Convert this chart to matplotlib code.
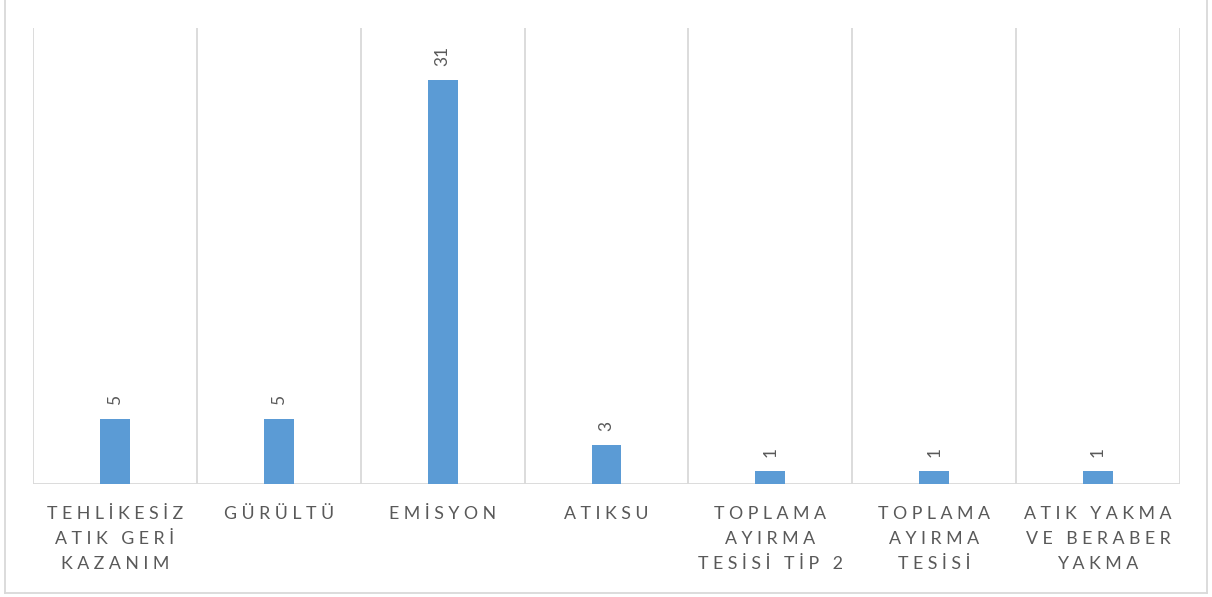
import matplotlib
matplotlib.use("Agg")
import matplotlib.pyplot as plt
from matplotlib.lines import Line2D

BAR = "#5B9BD5"
GRID = "#D9D9D9"
TEXT = "#595959"

categories = [
    "TEHLİKESİZ\nATIK GERİ\nKAZANIM",
    "GÜRÜLTÜ",
    "EMİSYON",
    "ATIKSU",
    "TOPLAMA\nAYIRMA\nTESİSİ TİP 2",
    "TOPLAMA\nAYIRMA\nTESİSİ",
    "ATIK YAKMA\nVE BERABER\nYAKMA",
]
values = [5, 5, 31, 3, 1, 1, 1]


def spaced(label: str) -> str:
    # imitate Excel's wide character spacing
    lines = []
    for line in label.split("\n"):
        words = [" ".join(word) for word in line.split(" ")]
        lines.append("   ".join(words))
    return "\n".join(lines)


plt.rcParams["font.family"] = ["Lato", "DejaVu Sans"]

W, H = 1212, 597
fig = plt.figure(figsize=(W / 100, H / 100), dpi=100)
ax = fig.add_axes([33 / W, (H - 484) / H, (1180 - 33) / W, (484 - 28) / H])

x = list(range(len(categories)))
bars = ax.bar(x, values, width=30 / 164, color=BAR, zorder=3)

ax.set_xlim(-0.5, len(categories) - 0.5)
ax.set_ylim(0, 35)

for b in range(len(categories) + 1):
    ax.axvline(b - 0.5, color=GRID, linewidth=1.3, zorder=1)
ax.axhline(0, color=GRID, linewidth=1.3, zorder=2)

for spine in ax.spines.values():
    spine.set_visible(False)
ax.set_yticks([])
ax.set_xticks(x)
ax.set_xticklabels([spaced(c) for c in categories], fontsize=12.8, color=TEXT,
                   linespacing=1.72, va="top")
ax.tick_params(axis="x", length=0, pad=15.5)

for rect, v in zip(bars, values):
    ax.annotate(str(v), (rect.get_x() + rect.get_width() / 2, rect.get_height()),
                xytext=(0, 10), textcoords="offset points", rotation=90,
                ha="center", va="bottom", fontsize=12.5, color=TEXT)

# outer chart border
for xs, ys in [([5 / W, 5 / W], [4 / H, 1.0]),
               ([1207 / W, 1207 / W], [4 / H, 1.0]),
               ([5 / W, 1207 / W], [4 / H, 4 / H])]:
    fig.add_artist(Line2D(xs, ys, color=GRID, linewidth=1.3, transform=fig.transFigure))

fig.savefig("out.png", dpi=100, facecolor="white")
